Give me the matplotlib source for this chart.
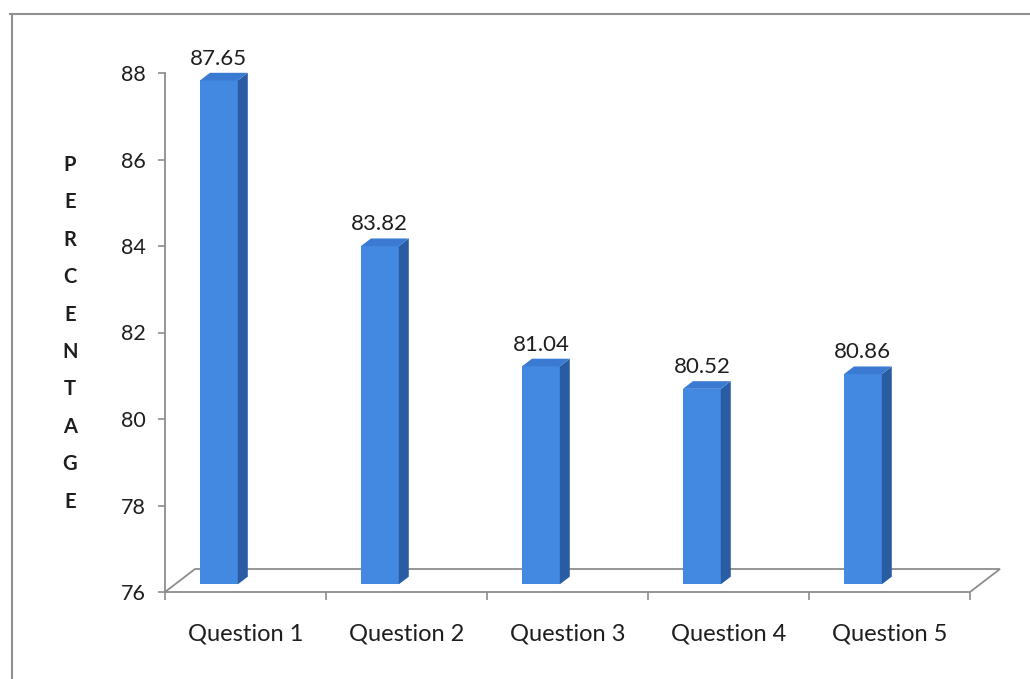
# Gráfico de barras "3D" estilo Excel: porcentaje por pregunta
import matplotlib
matplotlib.use("Agg")
import matplotlib.pyplot as plt
from matplotlib.patches import Polygon

plt.rcParams["font.family"] = ["Lato", "DejaVu Sans"]

# Datos
preguntas = ["Question 1", "Question 2", "Question 3", "Question 4", "Question 5"]
porcentajes = [87.65, 83.82, 81.04, 80.52, 80.86]
y_ticks = [76, 78, 80, 82, 84, 86, 88]
etiqueta_y = "PERCENTAGE"

COLOR_FRENTE = "#4389E2"
COLOR_LADO = "#2A5CA3"
COLOR_TAPA = "#3A7AD2"
COLOR_LINEA = "#8C8C8C"
COLOR_TEXTO = "#1E1E1E"

W, H = 1030, 679
fig = plt.figure(figsize=(W / 100, H / 100), dpi=100)
fig.patch.set_facecolor("white")

# ejes: izquierda en x=165 px, 76 en y=592 px, 88 en y=73 px
ax = fig.add_axes([165 / W, (H - 592) / H, (1000 - 165) / W, (592 - 73) / H])
ax.set_xlim(0, 835 / 161)
ax.set_ylim(76, 88)
ax.set_facecolor("none")

# profundidad del piso en unidades de datos
prof_x = 30 / 161
prof_y = 23 / 43.25

# piso
piso = Polygon([(0, 76), (5, 76), (5 + prof_x, 76 + prof_y), (prof_x, 76 + prof_y)],
               closed=True, facecolor="white", edgecolor=COLOR_LINEA, linewidth=1.3,
               clip_on=False, zorder=1)
ax.add_patch(piso)

# barras entre 1/3 y 2/3 de la profundidad
ancho = 0.235
z0x, z0y = prof_x / 3, prof_y / 3
for i, v in enumerate(porcentajes):
    izq = i + 0.155 + z0x
    der = izq + ancho
    base = 76 + z0y
    tope = v + z0y
    frente = Polygon([(izq, base), (der, base), (der, tope), (izq, tope)],
                     facecolor=COLOR_FRENTE, edgecolor="none", clip_on=False, zorder=3)
    lado = Polygon([(der, base), (der + z0x, base + z0y), (der + z0x, tope + z0y), (der, tope)],
                   facecolor=COLOR_LADO, edgecolor="none", clip_on=False, zorder=3)
    tapa = Polygon([(izq, tope), (der, tope), (der + z0x, tope + z0y), (izq + z0x, tope + z0y)],
                   facecolor=COLOR_TAPA, edgecolor="none", clip_on=False, zorder=3)
    for p in (frente, lado, tapa):
        ax.add_patch(p)
    ax.annotate(f"{v:.2f}", xy=((izq + der) / 2, tope + z0y), xytext=(0, 3),
                textcoords="offset points", ha="center", va="bottom",
                fontsize=16, color=COLOR_TEXTO, zorder=5, annotation_clip=False)

# ejes y marcas
for sp in ["top", "right", "bottom"]:
    ax.spines[sp].set_visible(False)
ax.spines["left"].set_color(COLOR_LINEA)
ax.spines["left"].set_linewidth(1.3)

ax.set_yticks(y_ticks)
ax.set_yticklabels([str(t) for t in y_ticks])
ax.tick_params(axis="y", direction="out", length=5, width=1.2, color=COLOR_LINEA,
               pad=9, labelsize=15.5, labelcolor=COLOR_TEXTO)

ax.set_xticks(range(6))
ax.set_xticklabels([])
ax.set_xticks([i + 0.5 for i in range(5)], minor=True)
ax.set_xticklabels(preguntas, minor=True)
ax.tick_params(axis="x", which="major", direction="out", length=6, width=1.2,
               color=COLOR_LINEA)
ax.tick_params(axis="x", which="minor", length=0, pad=23, labelsize=17,
               labelcolor=COLOR_TEXTO)

# etiqueta vertical letra por letra
for k, letra in enumerate(etiqueta_y):
    fig.text(70 / W, 1 - (165 + k * 37.4) / H, letra, ha="center", va="center",
             fontsize=14.5, fontweight="bold", color=COLOR_TEXTO)

# marco exterior
fig.add_artist(plt.Line2D([10 / W, 1], [1 - 14 / H, 1 - 14 / H], color="#909090",
                          linewidth=1.5, transform=fig.transFigure))
fig.add_artist(plt.Line2D([12 / W, 12 / W], [0, 1 - 14 / H], color="#909090",
                          linewidth=1.5, transform=fig.transFigure))

fig.savefig("out.png", dpi=100, facecolor="white")
